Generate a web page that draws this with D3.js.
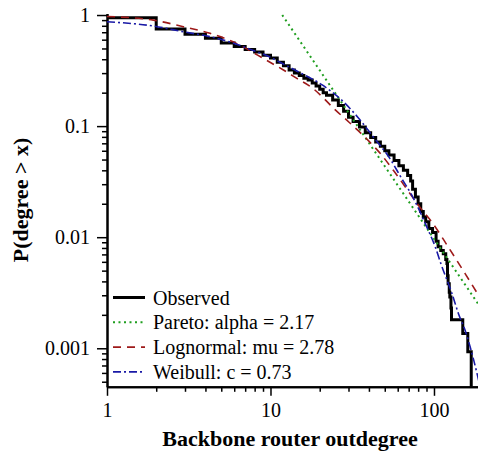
<!DOCTYPE html>
<html>
<head>
<meta charset="utf-8">
<script src="https://cdn.jsdelivr.net/npm/d3@7"></script>
<style>
  body { margin: 0; background: #fff; }
  svg { display: block; font-family: "Liberation Serif", "Times New Roman", serif; }
</style>
</head>
<body>
<script>
'use strict';

// observed CCDF: outdegree and P(degree > x)
const obsDegree = [1, 2, 3, 4, 5, 6, 7, 8, 9, 10, 11, 12, 13, 14, 15, 16, 17, 18, 19, 20,
  21, 22, 24, 26, 28, 30, 32, 35, 38, 41, 44, 47, 50, 53, 57, 61, 65, 69, 72, 74,
  77, 80, 83, 86, 89, 93, 98, 103, 106, 110, 114, 118, 120, 121, 122, 124, 125, 127,
  128, 150, 161, 169];
const obsP = [0.946, 0.748, 0.67, 0.617, 0.56, 0.52, 0.49, 0.465, 0.435, 0.41, 0.375, 0.35,
  0.32, 0.30, 0.285, 0.27, 0.26, 0.245, 0.23, 0.215, 0.20, 0.19, 0.172, 0.153, 0.136,
  0.12, 0.11, 0.098, 0.087, 0.079, 0.072, 0.066, 0.060, 0.055, 0.049, 0.044, 0.040,
  0.036, 0.032, 0.027, 0.023, 0.020, 0.017, 0.0152, 0.0138, 0.0120, 0.0110, 0.0092,
  0.0082, 0.0076, 0.0071, 0.0063, 0.0058, 0.0045, 0.0038, 0.0032, 0.0029, 0.0023,
  0.00181, 0.00136, 0.00093, 0.0001];

// fitted curves
const paretoX = [11.8, 200];
const paretoP = [1, 0.00215];

const lognormX = [1, 1.92, 2.93, 4.27, 5.5, 9.5, 12, 14.5, 18.3, 21, 24.9, 29.3, 34.4,
  39.7, 47.8, 56.4, 84, 97, 122, 155, 190];
const lognormP = [0.97, 0.90, 0.785, 0.684, 0.60, 0.39, 0.32, 0.269, 0.217, 0.180, 0.140,
  0.113, 0.091, 0.074, 0.055, 0.040, 0.0178, 0.0137, 0.0082, 0.0047, 0.0029];

const weibullX = [1, 1.92, 2.93, 4.27, 5.4, 8.24, 9.7, 12.3, 15.5, 20.6, 27.9, 34.4, 42.5,
  53.8, 63.4, 73, 82.2, 90.3, 101.7, 111, 128, 141, 155, 183, 195];
const weibullP = [0.87, 0.796, 0.707, 0.638, 0.583, 0.467, 0.425, 0.355, 0.298, 0.236,
  0.166, 0.119, 0.080, 0.051, 0.0338, 0.024, 0.0169, 0.0124, 0.0082, 0.0056, 0.0032,
  0.00206, 0.00145, 0.0006, 0.0004];

const xMajor = [1, 10, 100];
const yMajor = [1, 0.1, 0.01, 0.001];
const legendLabels = ['Observed', 'Pareto: alpha = 2.17', 'Lognormal: mu = 2.78', 'Weibull: c = 0.73'];

const width = 478, height = 452;

const svg = d3.select('body').append('svg')
  .attr('width', width)
  .attr('height', height);

svg.append('rect').attr('width', width).attr('height', height).attr('fill', '#fff');

let x = d3.scaleLog().domain([1, 200]).range([107, 483.2]);
let y = d3.scaleLog().domain([0.00045, 1.03]).range([386.8, 13.6]);

svg.append('defs').append('clipPath').attr('id', 'plot')
  .append('rect')
  .attr('x', x.range()[0]).attr('y', y.range()[1])
  .attr('width', x.range()[1] - x.range()[0])
  .attr('height', y.range()[0] - y.range()[1]);

// minor ticks
let xMinor = [];
for (let d = 1; d <= 100; d *= 10)
  for (let k = 2; k <= 9; k++) if (k * d <= 200) xMinor.push(k * d);
xMinor.push(200);
let yMinor = [];
[0.0001, 0.001, 0.01, 0.1].forEach(d => {
  for (let k = 2; k <= 9; k++) {
    let v = k * d;
    if (v >= 0.00045 && v <= 1) yMinor.push(v);
  }
});

function styleAxis(g) {
  g.selectAll('path.domain').attr('stroke', '#000').attr('stroke-width', 2);
  g.selectAll('.tick line').attr('stroke', '#000').attr('stroke-width', 1.5);
  g.selectAll('.tick text').attr('fill', '#000')
    .style('font-family', '"Liberation Serif", serif').style('font-size', '20px');
}

let xAxisMinor = svg.append('g')
  .attr('transform', `translate(0,${y.range()[0]})`)
  .call(d3.axisBottom(x).tickValues(xMinor).tickSize(5).tickSizeOuter(0).tickFormat(''));
styleAxis(xAxisMinor);
let xAxis = svg.append('g')
  .attr('transform', `translate(0,${y.range()[0]})`)
  .call(d3.axisBottom(x).tickValues(xMajor).tickSize(9).tickSizeOuter(0).tickPadding(7)
    .tickFormat(d3.format('d')));
styleAxis(xAxis);

let yAxisMinor = svg.append('g')
  .attr('transform', `translate(${x.range()[0]},0)`)
  .call(d3.axisLeft(y).tickValues(yMinor).tickSize(5).tickSizeOuter(0).tickFormat(''));
styleAxis(yAxisMinor);
let yAxis = svg.append('g')
  .attr('transform', `translate(${x.range()[0]},0)`)
  .call(d3.axisLeft(y).tickValues(yMajor).tickSize(10).tickSizeOuter(0).tickPadding(7)
    .tickFormat(d => String(d)));
styleAxis(yAxis);

// axis titles
svg.append('text')
  .attr('x', 290).attr('y', 446)
  .attr('text-anchor', 'middle')
  .style('font-size', '22px').style('font-weight', 'bold')
  .text('Backbone router outdegree');

svg.append('text')
  .attr('transform', 'translate(28,200) rotate(-90)')
  .attr('text-anchor', 'middle')
  .style('font-size', '22px').style('font-weight', 'bold')
  .text('P(degree > x)');

// series
const styles = [
  { color: '#000', width: 3, dash: null },
  { color: '#1f9e1f', width: 2, dash: '2,3.5' },
  { color: '#9e1a1a', width: 1.6, dash: '8,6' },
  { color: '#1a1aa6', width: 1.6, dash: '8,3,2,3' }
];

const plot = svg.append('g').attr('clip-path', 'url(#plot)');

function pairs(xs, ps) { return xs.map((v, i) => [v, ps[i]]); }

const stepLine = d3.line().x(d => x(d[0])).y(d => y(d[1])).curve(d3.curveStepAfter);
const smoothLine = d3.line().x(d => x(d[0])).y(d => y(d[1])).curve(d3.curveMonotoneX);

plot.append('path')
  .datum(pairs(obsDegree, obsP))
  .attr('d', stepLine)
  .attr('fill', 'none')
  .attr('stroke', styles[0].color)
  .attr('stroke-width', styles[0].width)
  .attr('stroke-linejoin', 'miter');

[[paretoX, paretoP], [lognormX, lognormP], [weibullX, weibullP]].forEach((s, i) => {
  let st = styles[i + 1];
  plot.append('path')
    .datum(pairs(s[0], s[1]))
    .attr('d', smoothLine)
    .attr('fill', 'none')
    .attr('stroke', st.color)
    .attr('stroke-width', st.width)
    .attr('stroke-dasharray', st.dash);
});

// legend
const legend = svg.append('g');
legendLabels.forEach((label, i) => {
  let cy = 297.5 + i * 24.8;
  let st = styles[i];
  legend.append('line')
    .attr('x1', 113).attr('x2', 145)
    .attr('y1', cy).attr('y2', cy)
    .attr('stroke', st.color)
    .attr('stroke-width', st.width)
    .attr('stroke-dasharray', st.dash);
  legend.append('text')
    .attr('x', 153).attr('y', cy + 7)
    .style('font-size', '20px')
    .text(label);
});
</script>
</body>
</html>
